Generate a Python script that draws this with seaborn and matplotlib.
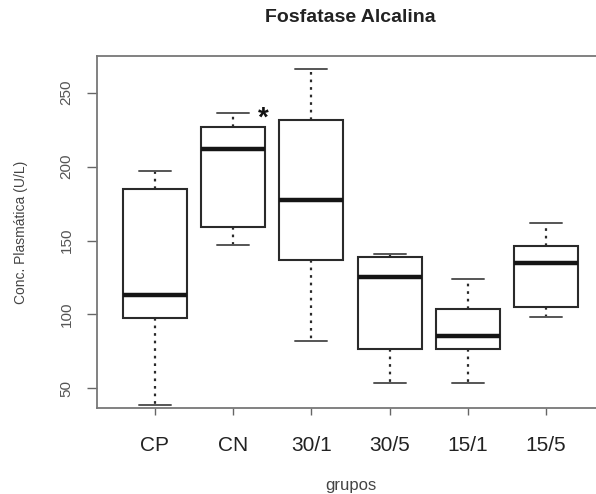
import matplotlib
matplotlib.use("Agg")
import matplotlib.pyplot as plt
import seaborn as sns
import pandas as pd

grupos = ["CP", "CN", "30/1", "30/5", "15/1", "15/5"]

# five-number summaries (U/L)
minimo = [39, 147, 82, 54, 53.5, 98]
q1 = [97.5, 159, 137, 77, 76.5, 105]
mediana = [113.5, 212, 177.5, 125, 85.5, 135]
q3 = [184.5, 226.5, 231.5, 139, 103.5, 146.5]
maximo = [197, 236.5, 266, 141, 124, 162]

y_ticks = [50, 100, 150, 200, 250]

# long table: with 5 values per group the quartiles land exactly on q1/q3
rows = []
for i, g in enumerate(grupos):
    for v in (minimo[i], q1[i], mediana[i], q3[i], maximo[i]):
        rows.append({"grupo": g, "valor": v})
df = pd.DataFrame(rows)

sns.set_style("white")
plt.rcParams["font.family"] = ["Liberation Sans", "DejaVu Sans"]

fig = plt.figure(figsize=(5.96, 4.94), dpi=100)
ax = fig.add_axes([97 / 596, 1 - 408 / 494, (604 - 97) / 596, (408 - 56) / 494])

sns.boxplot(
    data=df, x="grupo", y="valor", order=grupos, ax=ax,
    whis=(0, 100), width=0.82, color="white", linecolor="#2a2a2a",
    linewidth=1.5, showfliers=False,
    medianprops=dict(linewidth=3.2, color="#151515"),
    whiskerprops=dict(linestyle=(0, (1.2, 2.2)), linewidth=1.6),
    capprops=dict(linewidth=1.4, color="#555555"),
)

ax.set_xlim(-0.74, 5.74)
ax.set_ylim(36.8, 274.7)
ax.set_yticks(y_ticks)
ax.set_yticklabels([str(t) for t in y_ticks], rotation=90, va="center",
                   fontsize=11, color="#555555")
ax.set_xticks(range(len(grupos)))
ax.set_xticklabels(grupos, fontsize=15, color="#222222")
ax.tick_params(axis="y", direction="out", length=7, width=1, color="#666666", pad=10, left=True)
ax.tick_params(axis="x", direction="out", length=5, width=1, color="#666666", pad=15, bottom=True)

for side in ["top", "left", "bottom"]:
    ax.spines[side].set_color("#777777")
    ax.spines[side].set_linewidth(1.3)
ax.spines["right"].set_visible(False)

ax.set_xlabel("grupos", fontsize=12, color="#444444")
ax.set_ylabel("Conc. Plasmática (U/L)", fontsize=10, color="#444444")
ax.xaxis.set_label_coords(0.5, (408 - 485) / 352)
ax.xaxis.label.set_va("center")
ax.yaxis.set_label_coords((21 - 97) / 507, 0.5)
ax.yaxis.label.set_va("center")

# significance mark next to CN
ax.text(1.385, 232.5, "*", fontsize=20, fontweight="bold", color="#111111",
        ha="center", va="center")

fig.text(350 / 596, 1 - 18 / 494, "Fosfatase Alcalina", ha="center", va="center",
         fontsize=14, fontweight="bold", color="#222222")

fig.savefig("out.png", dpi=100)
